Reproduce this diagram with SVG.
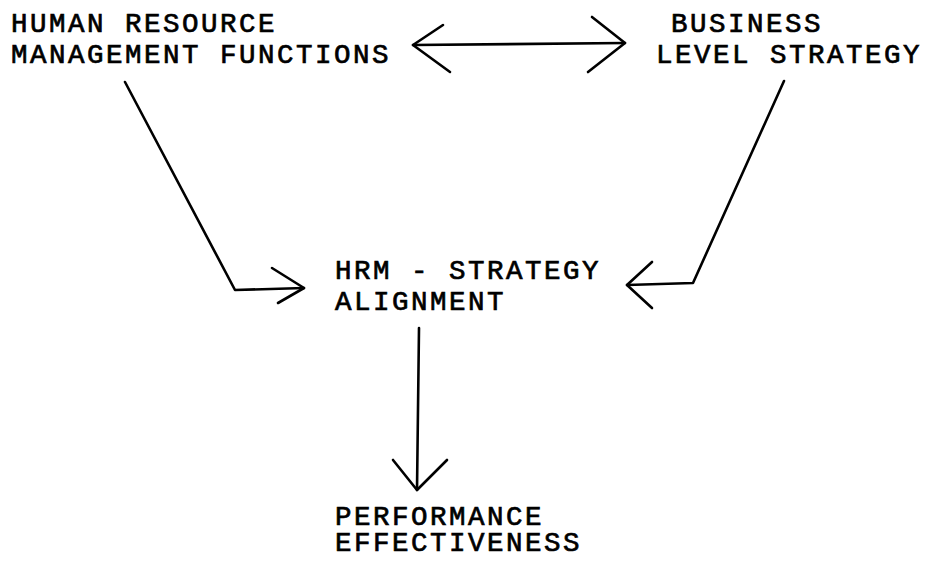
<svg xmlns="http://www.w3.org/2000/svg" width="927" height="563" viewBox="0 0 927 563">
<style>
  text { font-family: "Liberation Mono", "Courier New", monospace; font-size: 27.5px; letter-spacing: 2.5px; fill: #000; stroke: #000; stroke-width: 0.7px; }
  .c { fill: none; stroke: #000; stroke-width: 2.6; stroke-linecap: round; stroke-linejoin: round; }
</style>
<rect width="927" height="563" fill="#fff"/>
<g id="node-hrm-functions">
  <text x="11" y="32">HUMAN RESOURCE</text>
  <text x="11" y="63">MANAGEMENT FUNCTIONS</text>
</g>
<g id="node-business-strategy">
  <text x="671" y="32">BUSINESS</text>
  <text x="656" y="63">LEVEL STRATEGY</text>
</g>
<g id="node-alignment">
  <text x="335" y="279">HRM - STRATEGY</text>
  <text x="335" y="310">ALIGNMENT</text>
</g>
<g id="node-performance">
  <text x="335" y="525">PERFORMANCE</text>
  <text x="335" y="551">EFFECTIVENESS</text>
</g>
<g id="connectors">
  <path class="c" d="M413,45 L625,43"/>
  <path class="c" d="M443,25 L413,45 L450,72"/>
  <path class="c" d="M592,17 L625,43 L588,72"/>
  <path class="c" d="M125,82 L235,290 L304,288"/>
  <path class="c" d="M272,268 L304,288 L278,303"/>
  <path class="c" d="M784,81 L693,283 L627,285"/>
  <path class="c" d="M652,262 L627,285 L652,308"/>
  <path class="c" d="M419,328 L417,490"/>
  <path class="c" d="M393,460 L417,490 L447,460"/>
</g>
</svg>
